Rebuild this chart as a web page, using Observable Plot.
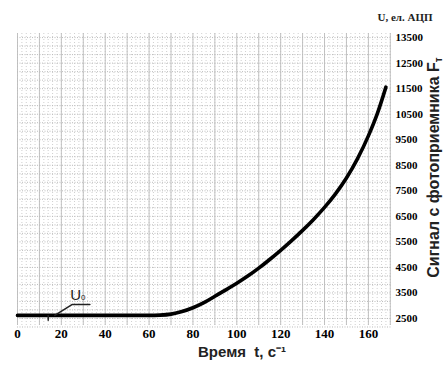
<!DOCTYPE html>
<html>
<head>
<meta charset="utf-8">
<script src="https://cdn.jsdelivr.net/npm/d3@7"></script>
<script src="https://cdn.jsdelivr.net/npm/@observablehq/plot@0.6"></script>
<style>
  html, body { margin: 0; padding: 0; background: #fff; }
  #chart { width: 443px; height: 365px; }
</style>
</head>
<body>
<div id="chart"></div>
<script>
// Curve: time t (s) vs signal U (ADC units)
const tValues = [0, 20, 40, 60, 65, 70, 75, 80, 85, 90, 95, 100, 105, 110, 115, 120, 125, 130, 135, 140, 145, 150, 155, 160, 164, 168];
const uValues = [2620, 2620, 2620, 2620, 2630, 2670, 2770, 2920, 3120, 3370, 3620, 3880, 4160, 4470, 4810, 5170, 5550, 5950, 6380, 6850, 7380, 8000, 8750, 9650, 10500, 11560];

// Tick labels
const xTicks = [0, 20, 40, 60, 80, 100, 120, 140, 160];
const yTicks = [2500, 3500, 4500, 5500, 6500, 7500, 8500, 9500, 10500, 11500, 12500, 13500];

// Texts
const xTitle = "Время  t, с⁻¹";
const yTitle = "Сигнал с фотоприемника F";
const yTitleSub = "т";
const yUnit = "U, ел. АЦП";
const u0Label = "U";
const u0Sub = "0";

// U0 leader annotation (data coordinates)
const leaderT = [17, 25, 33];
const leaderU = [2620, 3050, 3050];
const tickT = [14, 14];
const tickU = [2620, 2430];
const u0LabelT = [24];
const u0LabelU = [3230];

const curve = tValues.map((t, i) => ({t, u: uValues[i]}));
const leader = leaderT.map((t, i) => ({t, u: leaderU[i]}));
const tick = tickT.map((t, i) => ({t, u: tickU[i]}));

const xMinor = d3.range(0, 172, 2);
const xMajor = d3.range(0, 172, 10);
const yMinor = d3.range(2500 - 1000/3, 13700, 1000/3);

const chart = Plot.plot({
  width: 443,
  height: 365,
  marginLeft: 17,
  marginRight: 51,
  marginTop: 33,
  marginBottom: 40,
  x: {domain: [0, 171]},
  y: {domain: [2225, 13660]},
  style: {background: "#fff"},
  marks: [
    Plot.ruleY(yMinor, {stroke: "#aaa", strokeWidth: 0.8, strokeDasharray: "1,1.5"}),
    Plot.ruleX(xMinor, {stroke: "#bbb", strokeWidth: 0.7, strokeDasharray: "1,2"}),
    Plot.ruleX(xMajor, {stroke: "#bbb", strokeWidth: 0.9}),
    Plot.axisX({ticks: xTicks, tickSize: 0, tickPadding: 3, fontSize: 13, fontWeight: "bold",
      fontFamily: "Liberation Serif", label: null, tickFormat: d => String(d)}),
    Plot.axisY({anchor: "right", ticks: yTicks, tickSize: 0, tickPadding: 3, fontSize: 11,
      fontWeight: "bold", fontFamily: "Liberation Serif", label: null, tickFormat: d => String(d)}),
    Plot.line(curve, {x: "t", y: "u", stroke: "#000", strokeWidth: 3.6, curve: "monotone-x"}),
    Plot.line(leader, {x: "t", y: "u", stroke: "#222", strokeWidth: 1.5}),
    Plot.line(tick, {x: "t", y: "u", stroke: "#222", strokeWidth: 1.5}),
    Plot.text([u0Label], {x: u0LabelT, y: u0LabelU, text: d => d, fontSize: 15, fontFamily: "Liberation Sans",
      fill: "#222", textAnchor: "start", lineAnchor: "bottom"}),
    Plot.text([xTitle], {frameAnchor: "bottom", text: d => d, dx: 37, dy: 31, fontSize: 15,
      fontWeight: "bold", fontFamily: "Liberation Sans", fill: "#222", textAnchor: "middle", lineAnchor: "bottom"}),
    Plot.text([yTitle], {frameAnchor: "right", text: d => d, rotate: -90, dx: 41, dy: -12, fontSize: 16,
      fontWeight: "bold", fontFamily: "Liberation Sans", fill: "#222", textAnchor: "middle"}),
    Plot.text([yUnit], {frameAnchor: "top-right", text: d => d, dx: 40, dy: -20, fontSize: 11,
      fontWeight: "bold", fontFamily: "Liberation Serif", fill: "#222", textAnchor: "end"})
  ]
});

// Subscripts as tspans
const svg = d3.select(chart);
svg.selectAll("text").each(function() {
  const el = d3.select(this);
  const txt = el.text();
  if (txt === yTitle) {
    el.append("tspan").attr("font-size", 10).attr("dy", "0.35em").text(yTitleSub);
  } else if (txt === u0Label) {
    el.append("tspan").attr("font-size", 8).text(u0Sub);
  }
});

document.getElementById("chart").appendChild(chart);
</script>
</body>
</html>
